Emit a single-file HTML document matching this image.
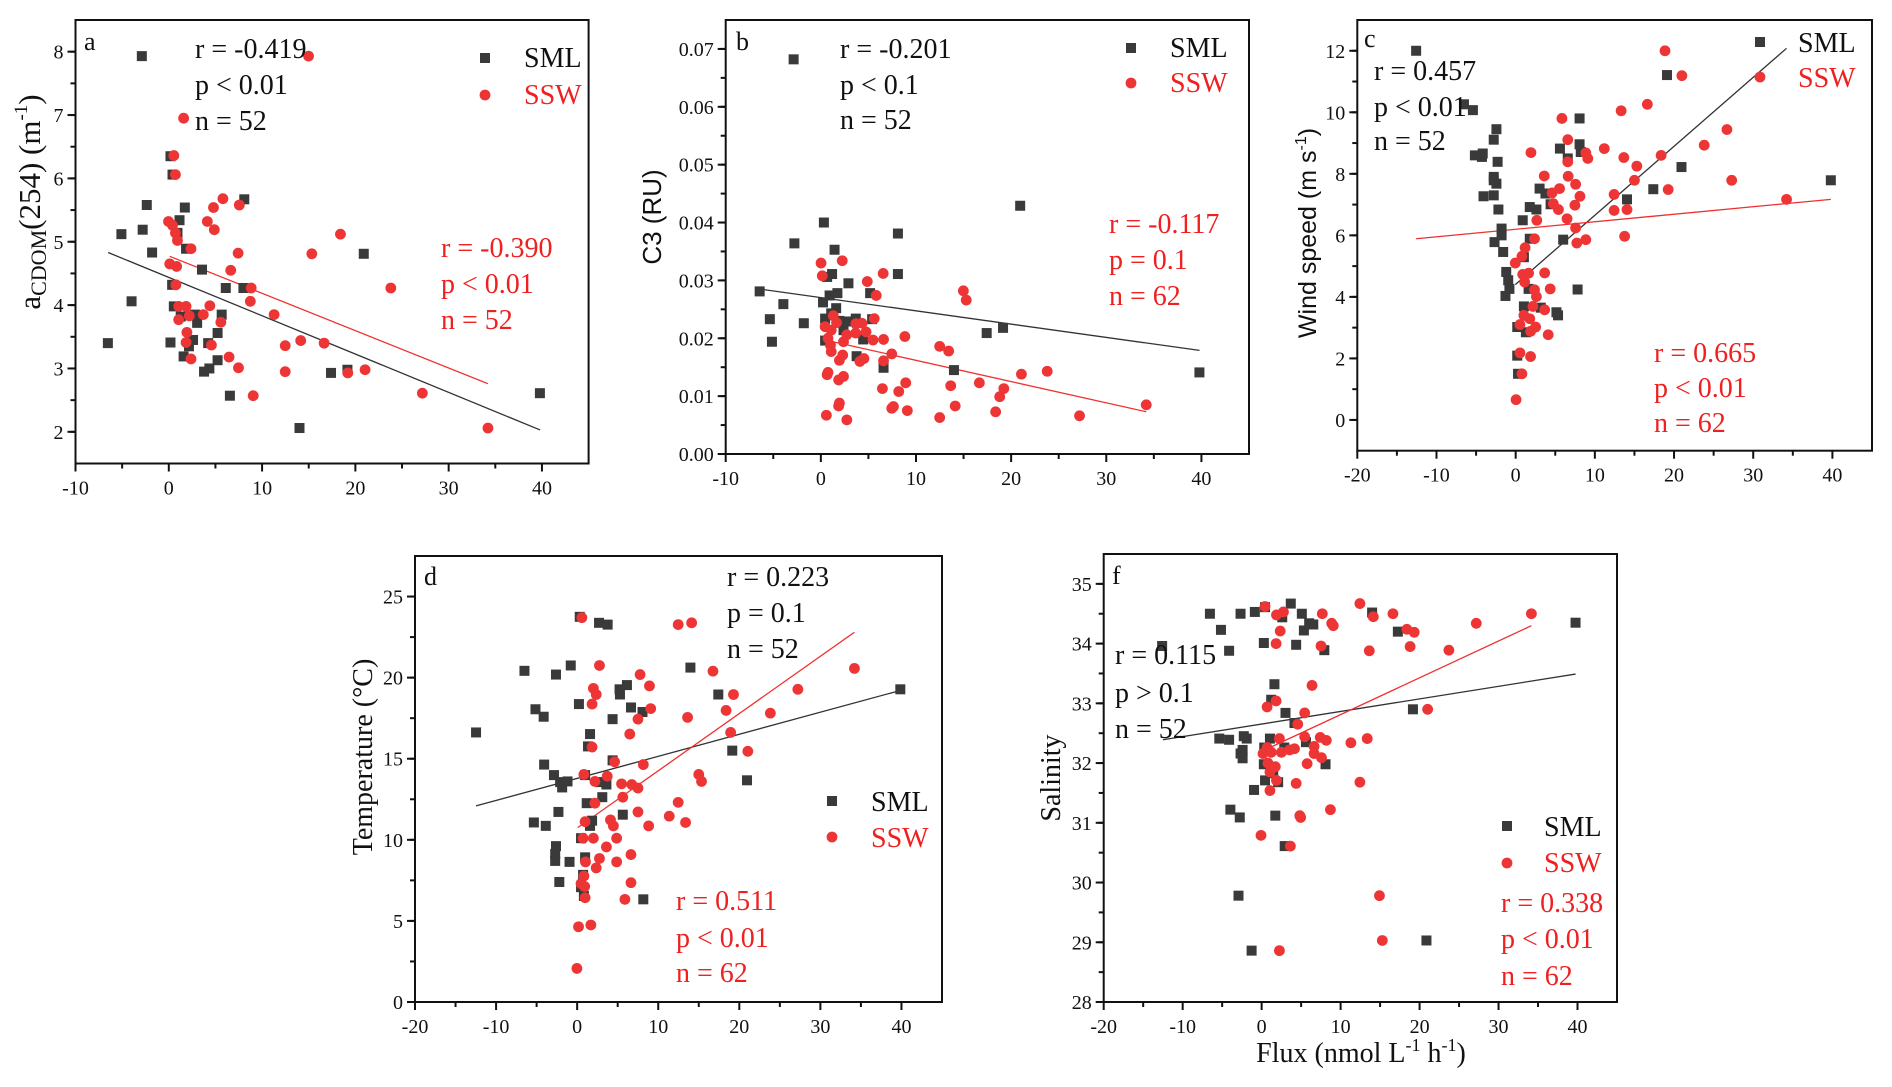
<!DOCTYPE html>
<html><head><meta charset="utf-8"><style>
html,body{margin:0;padding:0;background:#fff}
svg{display:block}
text{font-family:"Liberation Serif",serif}
.sans{font-family:"Liberation Sans",sans-serif}
</style></head><body>
<svg id="fig" width="1892" height="1087" viewBox="0 0 1892 1087" xmlns="http://www.w3.org/2000/svg"></svg>
<script>
// ---------- Panel a : aCDOM(254) ----------
const aSmlX=[-2.89,-6.53,-5.08,-2.80,-2.36,-3.99,-1.79,0.18,0.40,0.18,0.36,0.54,0.93,1.15,1.72,1.85,1.28,2.16,1.59,2.60,3.04,2.82,3.56,3.78,4.35,4.22,5.23,5.23,5.67,6.11,6.55,8.09,8.00,14.01,17.39,19.15,20.90,39.78];
const aSmlY=[7.93,3.40,5.12,5.19,5.58,4.06,4.83,6.35,6.06,3.41,4.32,3.98,5.14,5.34,5.54,4.89,3.82,3.35,3.19,3.45,3.72,3.85,4.56,2.95,3.00,3.40,3.13,3.56,3.85,4.27,2.57,5.67,4.27,2.06,2.93,2.98,4.81,2.61];
const aSswX=[14.98,1.59,0.54,0.71,-0.03,0.40,0.71,0.93,2.38,0.10,0.84,0.76,1.06,1.85,1.06,2.20,1.94,1.85,2.38,3.70,4.40,4.57,4.13,4.88,4.79,5.80,5.58,6.64,6.46,7.56,7.43,7.47,8.83,8.74,9.05,11.29,12.48,12.48,14.14,15.33,16.65,18.40,19.19,21.04,23.80,27.18,34.21];
const aSswY=[7.93,6.95,6.36,6.06,5.32,5.26,5.14,5.02,4.89,4.65,4.61,4.32,3.98,3.98,3.77,3.83,3.57,3.41,3.15,3.85,3.99,3.37,5.32,5.19,5.54,5.68,3.73,4.55,3.18,5.58,4.82,3.01,4.27,4.06,2.57,3.85,3.36,2.95,3.44,4.81,3.40,5.12,2.93,2.98,4.27,2.61,2.06];
const aFitSml=[[-6.5,4.83],[39.8,2.03]];
const aFitSsw=[[0.1,4.77],[34.2,2.76]];
const aYTicks=[2,3,4,5,6,7,8];
const xTicksA=[-10,0,10,20,30,40];

// ---------- Panel b : C3 ----------
const bSmlX=[-2.86,-6.43,-5.36,-5.14,-3.94,-1.79,0.32,-2.78,1.44,1.18,0.66,2.90,0.92,1.74,0.23,1.61,0.45,1.09,1.95,2.38,2.94,3.67,4.45,3.76,5.18,5.39,0.45,6.59,8.10,8.10,13.99,17.43,19.15,20.95,39.79];
const bSmlY=[0.0682,0.0281,0.0233,0.0194,0.0259,0.0226,0.0400,0.0364,0.0353,0.0311,0.0306,0.0295,0.0274,0.0278,0.0262,0.0252,0.0234,0.0243,0.0230,0.0214,0.0229,0.0234,0.0198,0.0169,0.0278,0.0233,0.0196,0.0149,0.0381,0.0311,0.0145,0.0209,0.0218,0.0429,0.0141];
const bSswX=[0.02,0.15,2.25,0.45,0.75,1.01,1.09,1.31,1.65,1.09,0.75,0.66,1.87,2.38,1.95,1.87,0.58,2.73,1.95,2.30,2.38,2.73,3.67,3.67,4.32,4.75,4.10,4.53,5.48,5.61,4.88,5.82,6.55,6.59,6.59,6.47,7.45,8.19,7.63,7.45,8.83,8.92,9.09,12.49,13.43,13.65,14.12,12.49,14.98,15.28,16.66,18.37,18.80,19.23,21.08,23.79,27.19,34.20];
const bSswY=[0.0330,0.0308,0.0334,0.0220,0.0200,0.0188,0.0177,0.0239,0.0227,0.0214,0.0141,0.0137,0.0128,0.0134,0.0088,0.0083,0.0067,0.0059,0.0162,0.0171,0.0194,0.0206,0.0209,0.0225,0.0226,0.0211,0.0160,0.0165,0.0197,0.0234,0.0298,0.0274,0.0312,0.0198,0.0161,0.0113,0.0173,0.0108,0.0082,0.0079,0.0203,0.0123,0.0075,0.0186,0.0178,0.0118,0.0083,0.0063,0.0282,0.0266,0.0123,0.0073,0.0099,0.0113,0.0138,0.0143,0.0066,0.0085];
const bFitSml=[[-6.4,0.0285],[39.8,0.0179]];
const bFitSsw=[[0.45,0.0197],[34.2,0.0073]];
const bYTicks=[0,0.01,0.02,0.03,0.04,0.05,0.06,0.07];

// ---------- Panel c : Wind speed ----------
const cSmlX=[-12.57,-6.53,-5.40,-5.15,-4.16,-4.26,-2.43,-2.77,-2.28,-2.77,-2.77,-2.43,-4.06,-2.77,-2.18,-1.78,-1.78,-2.67,-1.58,-1.19,-0.94,-0.79,-1.29,0.20,0.20,0.30,0.89,1.78,2.62,1.78,1.04,1.63,1.04,1.29,3.02,3.76,4.41,3.17,5.15,5.35,5.59,6.58,6.00,8.07,8.07,8.22,7.82,14.06,17.38,19.11,20.94,39.80];
const cSmlY=[12.0,10.26,10.07,8.60,8.66,8.55,9.45,9.11,8.39,7.90,7.79,7.68,7.27,7.30,6.84,6.22,6.00,5.78,5.46,4.81,4.54,4.26,4.03,3.02,2.09,1.50,6.49,6.92,6.84,5.89,5.29,4.26,3.69,2.85,7.52,7.36,7.01,3.65,3.50,3.40,8.82,8.50,5.86,9.80,8.96,8.71,4.24,7.17,7.50,11.21,8.22,7.79];
const cSswX=[18.86,20.99,16.63,13.32,5.84,26.68,23.81,6.58,1.93,11.19,13.66,8.86,9.11,6.58,15.30,18.37,3.61,6.63,5.54,4.60,4.75,5.40,7.57,7.48,8.12,15.00,19.26,27.28,12.43,12.43,14.06,34.21,6.49,7.57,2.67,2.38,7.72,8.86,13.76,1.19,0.79,-0.05,0.89,1.63,1.14,3.66,4.36,2.38,2.62,2.18,3.66,1.04,1.78,0.54,1.88,2.52,4.11,0.54,1.88,0.79,0.05];
const cSswY=[12.0,11.19,10.26,10.05,9.80,9.44,8.93,9.11,8.69,8.82,8.53,8.68,8.50,8.39,8.25,8.60,7.93,7.92,7.52,7.38,7.03,6.84,7.66,6.98,7.27,7.79,7.49,7.79,7.33,6.81,6.84,7.17,6.54,6.24,6.49,5.89,5.75,5.86,5.97,5.60,5.32,5.10,4.73,4.77,4.48,4.78,4.26,4.23,4.01,3.69,3.58,3.40,3.29,3.10,2.88,3.02,2.77,2.18,2.06,1.50,0.66];
const cFitSml=[[-0.05,4.40],[34.21,12.08]];
const cFitSsw=[[-12.57,5.89],[39.80,7.17]];
const cYTicks=[0,2,4,6,8,10,12];
const xTicksC=[-20,-10,0,10,20,30,40];

// ---------- Panel d : Temperature ----------
const dSmlX=[-12.47,-6.50,-2.61,-0.79,-5.14,-4.13,-4.07,-2.86,-2.10,-1.85,-1.19,-5.34,-3.87,-2.31,-2.61,-2.71,-2.71,-0.94,-2.20,0.22,0.32,2.70,3.76,1.59,1.34,0.98,1.18,2.85,3.61,3.10,1.84,1.59,0.48,0.98,0.73,0.48,0.83,4.37,4.37,5.23,5.28,6.14,6.64,8.06,5.63,8.16,13.97,17.41,19.13,20.95,39.86];
const dSmlY=[16.62,20.42,20.19,20.75,18.05,17.59,14.64,13.99,13.56,13.23,13.60,11.07,10.86,11.72,9.61,9.13,8.70,8.64,7.40,18.37,23.75,23.38,23.27,16.52,15.76,13.99,12.26,13.56,13.41,12.63,11.18,10.86,10.10,8.92,7.84,7.08,6.54,17.44,14.90,19.28,18.96,19.54,18.16,17.88,11.55,6.33,20.62,18.96,15.50,13.67,19.28];
const dSswX=[0.58,12.46,14.12,2.75,7.76,2.0,2.35,1.84,8.92,9.07,7.50,6.49,1.84,4.62,8.16,0.83,3.71,2.19,5.48,6.74,7.50,5.63,2.19,12.46,7.50,11.36,13.37,4.11,4.47,0.98,8.82,0.73,2.0,4.87,3.61,6.64,2.75,4.87,1.03,2.35,0.83,0.48,0.93,0.98,6.64,5.89,0.17,1.69,-0.03,13.62,16.75,18.37,18.93,19.28,21.05,15.0,15.34,23.83,27.22,34.20];
const dSswY=[23.70,23.27,23.38,20.75,20.19,19.34,18.96,18.37,19.49,18.09,17.44,16.52,15.72,14.81,14.64,14.03,13.92,13.60,13.45,13.41,13.19,12.63,12.26,12.31,11.72,11.46,11.07,11.23,10.86,11.12,10.86,10.10,10.10,10.10,9.56,9.09,8.85,8.64,8.64,8.27,7.77,7.30,7.12,6.43,7.36,6.33,4.64,4.75,2.07,17.55,20.40,17.98,16.62,18.96,15.46,14.03,13.60,17.81,19.28,20.57];
const dFitSml=[[-12.47,12.09],[39.86,19.21]];
const dFitSsw=[[0.07,10.75],[34.2,22.80]];
const dYTicks=[0,5,10,15,20,25];

// ---------- Panel f : Salinity ----------
const fSmlX=[-12.60,-6.55,-5.15,-4.12,-2.67,-0.86,0.28,0.43,2.61,3.69,5.09,4.37,5.35,6.02,6.54,7.94,13.99,17.25,19.16,39.75,1.62,1.21,3.02,4.16,5.61,-5.36,-4.12,-2.26,-1.89,-2.41,-2.67,-2.41,1.05,0.33,0.28,1.47,2.09,0.43,2.87,-0.96,8.09,-3.96,-2.77,1.73,2.92,-2.93,-1.27,20.87];
const fSmlY=[33.96,34.50,34.23,33.88,34.50,34.53,34.01,34.61,34.44,34.67,34.50,33.98,34.22,34.34,34.32,33.89,34.52,34.20,32.90,34.35,33.32,33.06,32.84,32.67,32.35,32.41,32.39,32.45,32.41,32.22,32.16,32.08,32.41,32.26,31.98,31.83,31.68,31.71,32.26,31.55,31.98,31.22,31.09,31.12,30.61,29.78,28.86,29.03];
const fSswX=[0.43,1.88,2.76,2.35,1.83,7.68,8.87,9.07,7.52,12.44,14.14,13.63,16.63,18.39,19.32,18.80,23.71,27.18,34.16,6.38,0.69,1.83,5.45,4.57,5.45,2.25,7.42,8.19,11.30,13.37,0.69,0.17,1.21,2.50,3.54,4.16,6.64,6.64,7.58,0.80,1.73,1.05,5.76,1.88,1.05,4.37,12.44,4.83,4.94,8.71,-0.08,3.64,14.92,15.28,2.25,21.02];
const fSswY=[34.62,34.48,34.53,34.21,34.00,34.50,34.34,34.30,33.96,34.67,34.45,33.88,34.50,34.24,34.19,33.95,33.89,34.34,34.50,33.30,32.94,33.04,32.84,32.65,32.44,32.41,32.43,32.38,32.34,32.41,32.26,32.16,32.18,32.18,32.22,32.24,32.28,32.16,32.09,32.00,31.94,31.85,31.99,31.71,31.54,31.66,31.68,31.12,31.09,31.22,30.79,30.61,29.78,29.03,28.86,32.90];
const fFitSml=[[-12.5,32.39],[39.75,33.49]];
const fFitSsw=[[-0.08,32.19],[34.16,34.30]];
const fYTicks=[28,29,30,31,32,33,34,35];

const NS='http://www.w3.org/2000/svg';
const svg=document.getElementById('fig');
function mk(tag,attrs,parent){const e=document.createElementNS(NS,tag);for(const k in attrs)e.setAttribute(k,attrs[k]);(parent||svg).appendChild(e);return e;}

function drawPanel(p){
  const g=mk('g',{});
  
  
  const sx=v=>p.L+(v-p.x0)/(p.x1-p.x0)*(p.R-p.L);
  const sy=v=>p.B-(v-p.y0)/(p.y1-p.y0)*(p.B-p.T);
  const fr=mk('rect',{x:p.L,y:p.T,width:p.R-p.L,height:p.B-p.T,fill:'none',stroke:'#111','stroke-width':2},g);
  
  
  for(let i=0;i<p.xt.length;i++){
    const v=p.xt[i],x=sx(v);
    mk('line',{x1:x,y1:p.B,x2:x,y2:p.B+8,stroke:'#111','stroke-width':2},g);
    const mv=v+(p.xt[1]-p.xt[0])/2;
    if(mv<p.x1){const mx=sx(mv);mk('line',{x1:mx,y1:p.B,x2:mx,y2:p.B+5,stroke:'#111','stroke-width':2},g);}
    const t=mk('text',{x:x,y:p.B+31,'text-anchor':'middle','font-size':20,fill:'#111'},g);
    t.textContent=String(v);
    
    
  }
  for(let i=0;i<p.yt.length;i++){
    const v=p.yt[i],y=sy(v);
    mk('line',{x1:p.L,y1:y,x2:p.L-8,y2:y,stroke:'#111','stroke-width':2},g);
    const t=mk('text',{x:p.L-12,y:y+7,'text-anchor':'end','font-size':20,fill:'#111'},g);
    t.textContent=p.fmt?p.fmt(v):String(v);
    
    
  }
  const step=(p.yt[1]-p.yt[0])/2;
  for(let v=p.yt[0]-step;v<p.y1;v+=step){
    if(v<=p.y0)continue;
    const y=sy(v);mk('line',{x1:p.L,y1:y,x2:p.L-5,y2:y,stroke:'#111','stroke-width':2},g);
  }
  const l1=mk('line',{x1:sx(p.fs[0][0]),y1:sy(p.fs[0][1]),x2:sx(p.fs[1][0]),y2:sy(p.fs[1][1]),stroke:'#333','stroke-width':1.3},g);
  
  
  const l2=mk('line',{x1:sx(p.fr[0][0]),y1:sy(p.fr[0][1]),x2:sx(p.fr[1][0]),y2:sy(p.fr[1][1]),stroke:'#f03030','stroke-width':1.3},g);
  
  
  for(let i=0;i<p.sx.length;i++){
    const r=mk('rect',{x:sx(p.sx[i])-5,y:sy(p.sy[i])-5,width:10,height:10,fill:'#3a3a3a'},g);
    
    
  }
  for(let i=0;i<p.rx.length;i++){
    const c=mk('circle',{cx:sx(p.rx[i]),cy:sy(p.ry[i]),r:5.4,fill:'#ee3535'},g);
    
    
  }
  return g;
}
function txt(x,y,s,opt){const t=mk('text',Object.assign({x:x,y:y,'font-size':28,fill:'#111'},opt||{}));t.innerHTML=s;return t;}

const panels=[
 {id:'a',L:75.5,R:588.6,T:20,B:463.5,x0:-10,x1:45,y0:1.5,y1:8.5,xt:xTicksA,yt:aYTicks,sx:aSmlX,sy:aSmlY,rx:aSswX,ry:aSswY,fs:aFitSml,fr:aFitSsw},
 {id:'b',L:725.7,R:1249,T:20,B:454,x0:-10,x1:45,y0:0,y1:0.075,xt:xTicksA,yt:bYTicks,fmt:v=>v.toFixed(2),sx:bSmlX,sy:bSmlY,rx:bSswX,ry:bSswY,fs:bFitSml,fr:bFitSsw},
 {id:'c',L:1357.3,R:1872,T:20,B:450.7,x0:-20,x1:45,y0:-1,y1:13,xt:xTicksC,yt:cYTicks,sx:cSmlX,sy:cSmlY,rx:cSswX,ry:cSswY,fs:cFitSml,fr:cFitSsw},
 {id:'d',L:415,R:942,T:556,B:1002,x0:-20,x1:45,y0:0,y1:27.5,xt:xTicksC,yt:dYTicks,sx:dSmlX,sy:dSmlY,rx:dSswX,ry:dSswY,fs:dFitSml,fr:dFitSsw},
 {id:'f',L:1103.7,R:1617,T:554,B:1002,x0:-20,x1:45,y0:28,y1:35.5,xt:xTicksC,yt:fYTicks,sx:fSmlX,sy:fSmlY,rx:fSswX,ry:fSswY,fs:fFitSml,fr:fFitSsw}
];
panels.forEach(drawPanel);

const R='#ee2020';
function named(el,n){}
function legend(id,sqx,sqy,ccy,tx,t1,t2){
  const s=mk('rect',{x:sqx-5,y:sqy-5,width:10,height:10,fill:'#3a3a3a'});named(s,'legend-sml-marker-'+id);
  const c=mk('circle',{cx:sqx,cy:ccy,r:5.4,fill:'#ee3535'});named(c,'legend-ssw-marker-'+id);
  named(txt(tx,t1,'SML'),'legend-sml-label-'+id);
  named(txt(tx,t2,'SSW',{fill:R}),'legend-ssw-label-'+id);
}
function stats(id,x,ys,lines,col){lines.forEach((s,i)=>named(txt(x,ys[i],s,{fill:col}),'stats-'+id+'-'+i));}

named(txt(84,50,'a',{'font-size':26}),'panel-letter-a');
stats('a-sml',195,[58,94,130],['r = -0.419','p &lt; 0.01','n = 52'],'#111');
stats('a-ssw',441,[257,293,329],['r = -0.390','p &lt; 0.01','n = 52'],R);
legend('a',485,58,95,524,67,104);
named(txt(0,0,'a<tspan font-size="22" dy="6">CDOM</tspan><tspan dy="-6">(254) (m</tspan><tspan font-size="19" dy="-13">-1</tspan><tspan dy="13">)</tspan>',{transform:'translate(40,202) rotate(-90)','text-anchor':'middle','font-size':31}),'y-axis-title-a');

named(txt(736,50,'b',{'font-size':26}),'panel-letter-b');
stats('b-sml',840,[58,94,129],['r = -0.201','p &lt; 0.1','n = 52'],'#111');
stats('b-ssw',1109,[233,269,305],['r = -0.117','p = 0.1','n = 62'],R);
legend('b',1131,48,83,1170,57,92);
named(txt(0,0,'C3 (RU)',{transform:'translate(661,217) rotate(-90)','text-anchor':'middle',class:'sans','font-size':26}),'y-axis-title-b');

named(txt(1364,47,'c',{'font-size':26}),'panel-letter-c');
stats('c-sml',1374,[80,116,150],['r = 0.457','p &lt; 0.01','n = 52'],'#111');
stats('c-ssw',1654,[362,397,432],['r = 0.665','p &lt; 0.01','n = 62'],R);
legend('c',1760,42,77,1798,52,87);
named(txt(0,0,'Wind speed (m s<tspan font-size="16" dy="-10">-1</tspan><tspan dy="10">)</tspan>',{transform:'translate(1316,233) rotate(-90)','text-anchor':'middle',class:'sans','font-size':25}),'y-axis-title-c');

named(txt(424,585,'d',{'font-size':26}),'panel-letter-d');
stats('d-sml',727,[586,622,658],['r = 0.223','p = 0.1','n = 52'],'#111');
stats('d-ssw',676,[910,947,982],['r = 0.511','p &lt; 0.01','n = 62'],R);
legend('d',832,801,837,871,811,847);
named(txt(0,0,'Temperature (°C)',{transform:'translate(372,757) rotate(-90)','text-anchor':'middle'}),'y-axis-title-d');

named(txt(1112,584,'f',{'font-size':26}),'panel-letter-f');
stats('f-sml',1115,[664,702,738],['r = 0.115','p &gt; 0.1','n = 52'],'#111');
stats('f-ssw',1501,[912,948,985],['r = 0.338','p &lt; 0.01','n = 62'],R);
legend('f',1507,826,863,1544,836,872);
named(txt(0,0,'Salinity',{transform:'translate(1060,778) rotate(-90)','text-anchor':'middle'}),'y-axis-title-f');
named(txt(1361,1062,'Flux (nmol L<tspan font-size="18" dy="-11">-1</tspan><tspan dy="11"> h</tspan><tspan font-size="18" dy="-11">-1</tspan><tspan dy="11">)</tspan>',{'text-anchor':'middle'}),'x-axis-title');
</script>
</body></html>
